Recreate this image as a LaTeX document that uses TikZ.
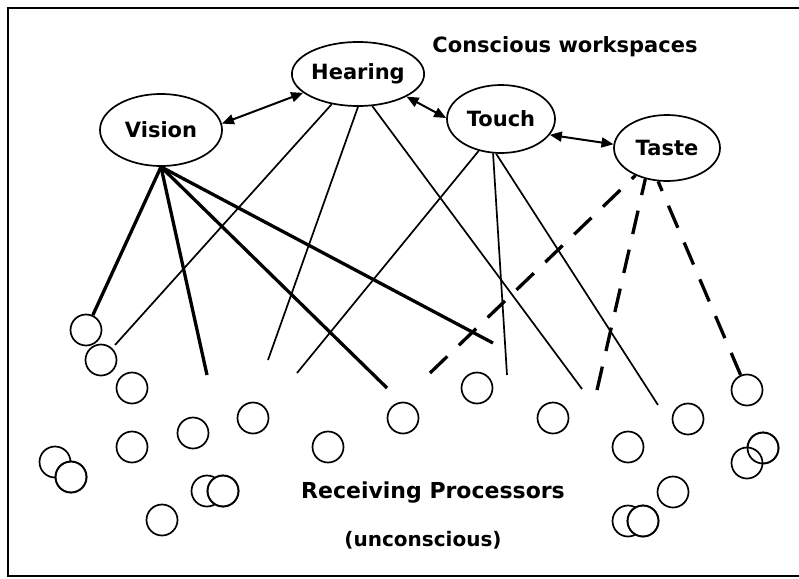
\documentclass[tikz,border=0pt]{standalone}
\usepackage{fontspec}
\setmainfont{DejaVu Sans}
\usetikzlibrary{shapes.geometric,arrows.meta}
\tikzset{
  ws/.style={draw,ellipse,line width=1.7pt,inner sep=0pt,font=\bfseries\fontsize{21}{25}\selectfont},
  proc/.style={draw,circle,line width=1.7pt,minimum size=31pt,inner sep=0pt},
  thickln/.style={line width=3.3pt},
  thinln/.style={line width=1.7pt},
  dashln/.style={line width=3.3pt,dash pattern=on 24pt off 16pt},
  dbl/.style={line width=2pt,{Triangle[length=12pt,width=10pt]}-{Triangle[length=12pt,width=10pt]}},
  lbl/.style={font=\bfseries\fontsize{21}{25}\selectfont,inner sep=0pt}
}
\begin{document}
\begin{tikzpicture}[x=1pt,y=-1pt]
\useasboundingbox (0,0) rectangle (799,578);
% frame
\draw[line width=2pt] (799,8) -- (8,8) -- (8,576) -- (799,576);

% workspaces
\node[ws,minimum width=122pt,minimum height=72pt] (vision) at (161,130) {Vision};
\node[ws,minimum width=120pt,minimum height=64pt] (hearing) at (358,74) {Hearing};
\node[ws,minimum width=108pt,minimum height=68pt] (touch) at (501,119) {Touch};
\node[ws,minimum width=106pt,minimum height=66pt] (taste) at (667,148) {Taste};

\node[lbl] (title) at (565,47) {Conscious workspaces};
\node[lbl,font=\bfseries\fontsize{22}{26}\selectfont] (recv) at (433,493) {Receiving Processors};
\node[lbl,font=\bfseries\fontsize{20}{24}\selectfont] (uncon) at (423,540) {(unconscious)};

% receiving processors
\foreach \n/\x/\y in {c1/86/330, c2/101/360, c3/132/388, c4/132/447, c5/193/433,
  c6/253/418, c7/328/447, c8/55/462, c9/71/477, c10/207/491, c11/223/491,
  c12/162/520, c13/403/418, c14/477/388, c15/553/418, c16/628/447, c17/688/419,
  c18/747/390, c19/763/448, c20/747/463, c21/673/492, c22/628/521, c23/643/521}
  \node[proc,fill=white] (\n) at (\x,\y) {};
% redraw overlapping circles outlines
\foreach \n/\x/\y in {c9/71/477, c11/223/491, c19/763/448, c23/643/521}
  \node[proc] at (\x,\y) {};

% free ends
\coordinate (ev2) at (207,375);
\coordinate (ev3) at (387,388);
\coordinate (ev4) at (493,343);
\coordinate (eh1) at (115,345);
\coordinate (eh2) at (268,360);
\coordinate (eh3) at (582,389);
\coordinate (et1) at (297,373);
\coordinate (et2) at (507,375);
\coordinate (et3) at (658,405);
\coordinate (ed1) at (430,373);
\coordinate (ed2) at (597,390);

% vision connectors
\draw[thickln] (vision.south) -- (c1);
\draw[thickln] (vision.south) -- (ev2);
\draw[thickln] (vision.south) -- (ev3);
\draw[thickln] (vision.south) -- (ev4);
% hearing
\draw[thinln] (hearing.-131) -- (eh1);
\draw[thinln] (hearing.-90) -- (eh2);
\draw[thinln] (hearing.-66) -- (eh3);
% touch
\draw[thinln] (touch.-125) -- (et1);
\draw[thinln] (touch.-103) -- (et2);
\draw[thinln] (touch.-98) -- (et3);
% taste
\draw[dashln] (ed1) -- (taste.-139);
\draw[dashln] (ed2) -- (taste.-125);
\draw[dashln] (c18) -- (taste.-105);

% arrows between workspaces
\draw[dbl] (vision.6) -- (hearing.199);
\draw[dbl] (hearing.-25) -- (touch.179);
\draw[dbl] (touch.-18) -- (taste.176);
\end{tikzpicture}
\end{document}
